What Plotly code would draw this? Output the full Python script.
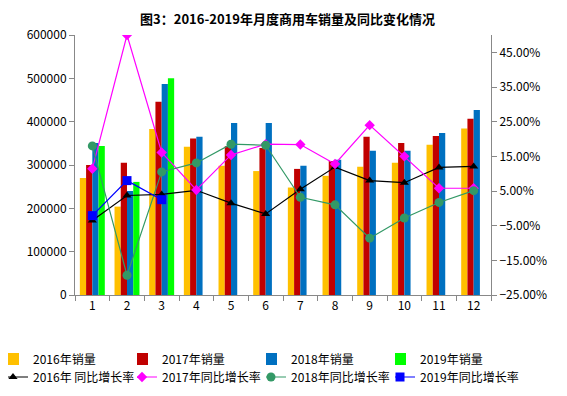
import plotly.graph_objects as go

months = [str(i) for i in range(1, 13)]

sales_2016 = [270000, 204000, 383000, 342000, 298000, 286000, 248000, 275000, 296000, 305000, 347000, 384000]
sales_2017 = [300000, 305000, 446000, 361000, 343000, 339000, 291000, 309000, 365000, 351000, 367000, 407000]
sales_2018 = [351000, 240000, 487000, 365000, 397000, 397000, 298000, 312000, 333000, 333000, 374000, 427000]
sales_2019 = [344000, 261000, 500000]

yoy_2016 = [-0.035, 0.037, 0.040, 0.052, 0.015, -0.016, 0.055, 0.119, 0.080, 0.074, 0.118, 0.121]
yoy_2017 = [0.114, 0.500, 0.161, 0.053, 0.154, 0.185, 0.184, 0.128, 0.240, 0.150, 0.058, 0.058]
yoy_2018 = [0.180, -0.193, 0.105, 0.131, 0.185, 0.182, 0.032, 0.010, -0.086, -0.028, 0.017, 0.051]
yoy_2019 = [-0.021, 0.080, 0.025]

bar_names = ["2016年销量", "2017年销量", "2018年销量", "2019年销量"]
line_names = ["2016年 同比增长率", "2017年同比增长率", "2018年同比增长率", "2019年同比增长率"]
bar_colors = ["#FFC000", "#C00000", "#0070C0", "#00FF00"]
line_colors = ["#000000", "#FF00FF", "#339966", "#0000FF"]
symbols = ["triangle-up", "diamond", "circle", "square"]
msizes = [8, 8, 9, 9]

# page is rendered with an 8px body margin; figure is sized to compensate
W, H = 559, 388
legend_ids = ["legend", "legend2", "legend3", "legend4", "legend5", "legend6", "legend7", "legend8"]

fig = go.Figure()
for i, (name, vals, col) in enumerate(zip(bar_names, [sales_2016, sales_2017, sales_2018, sales_2019], bar_colors)):
    fig.add_trace(go.Bar(x=months[:len(vals)], y=vals, name=name, marker_color=col,
                         marker_line_width=0, legend=legend_ids[i], showlegend=True))

for i, (name, vals, col, sym, ms) in enumerate(zip(line_names, [yoy_2016, yoy_2017, yoy_2018, yoy_2019],
                                                   line_colors, symbols, msizes)):
    fig.add_trace(go.Scatter(x=months[:len(vals)], y=vals, name=name, yaxis="y2",
                             mode="lines+markers",
                             line=dict(color=col, width=1.2),
                             marker=dict(symbol=sym, size=ms, color=col),
                             legend=legend_ids[4 + i], showlegend=True))

font_family = "Noto Sans CJK SC, DejaVu Sans, sans-serif"
legend_layout = {}
col_x = [0, 129, 258, 387]
row_y = [351, 369]
for k, lid in enumerate(legend_ids):
    r, c = divmod(k, 4)
    legend_layout[lid] = dict(xref="container", yref="container",
                              x=col_x[c] / W, xanchor="left",
                              y=1 - row_y[r] / H, yanchor="middle",
                              indentation=-15, itemwidth=30,
                              font=dict(size=12, color="black"),
                              bgcolor="rgba(0,0,0,0)")

fig.update_layout(
    width=W, height=H,
    showlegend=True,
    margin=dict(l=67, r=76, t=27, b=101, autoexpand=False),
    paper_bgcolor="white", plot_bgcolor="white",
    font=dict(family=font_family, size=12, color="black"),
    title=dict(text="<b>图3：2016-2019年月度商用车销量及同比变化情况</b>",
               xref="container", yref="container",
               x=0.5, xanchor="center", y=1 - 11 / H, yanchor="middle",
               font=dict(size=13, color="black")),
    barmode="group", bargap=0.28, bargroupgap=0,
    xaxis=dict(type="category", range=[-0.5, len(months) - 0.5], autorange=False,
               showgrid=False, showline=True, linecolor="#888888",
               ticks="outside", tickson="boundaries", tickcolor="#888888", ticklen=5,
               tickfont=dict(size=12)),
    yaxis=dict(range=[0, 600000], dtick=100000, showgrid=False, showline=True,
               linecolor="#888888", ticks="outside", tickcolor="#888888", ticklen=5,
               tickformat="d", zeroline=False, tickfont=dict(size=12)),
    yaxis2=dict(range=[-0.25, 0.50], overlaying="y", side="right",
                tickvals=[-0.25, -0.15, -0.05, 0.05, 0.15, 0.25, 0.35, 0.45],
                tickformat=".2%", showgrid=False, showline=True, linecolor="#888888",
                ticks="outside", tickcolor="#888888", ticklen=5, zeroline=False,
                tickfont=dict(size=12)),
    **legend_layout,
)

fig.write_html("out.html")
